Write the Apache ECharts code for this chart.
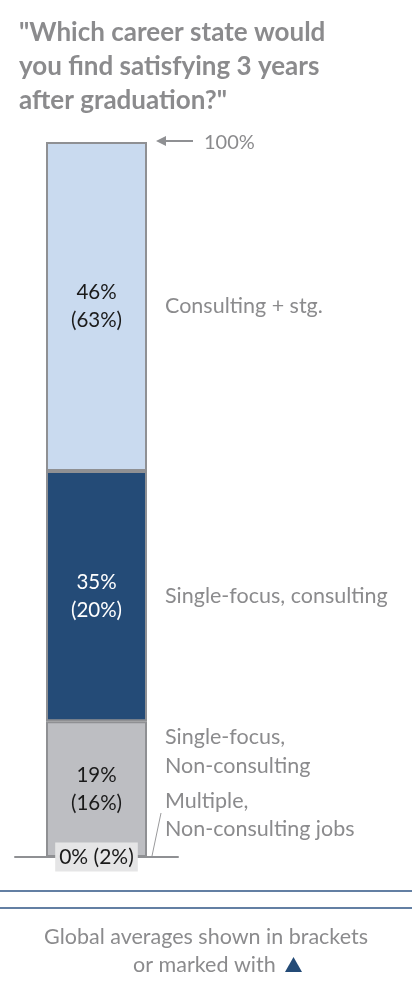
<!DOCTYPE html>
<html>
<head>
<meta charset="utf-8">
<style>
  html, body { margin: 0; padding: 0; background: #ffffff; }
  #chart { width: 412px; height: 983px; }
</style>
<script src="https://cdn.jsdelivr.net/npm/echarts@6/dist/echarts.min.js"></script>
</head>
<body>
<div id="chart"></div>
<script>
// Share of respondents per career state (bottom segment first), with global averages
const categories = ['Career state'];
const segmentNames = ['Multiple, Non-consulting jobs', 'Single-focus, Non-consulting', 'Single-focus, consulting', 'Consulting + stg.'];
const segmentValues = [0, 19, 35, 46];
const globalAverages = [2, 16, 20, 63];
const segmentColors = ['#bdbec2', '#bdbec2', '#244b77', '#c9daef'];
const insideTextColors = ['#1a1a1a', '#1a1a1a', '#ffffff', '#1a1a1a'];
const sideLabels = ['Multiple,\nNon-consulting jobs', 'Single-focus,\nNon-consulting', 'Single-focus, consulting', 'Consulting + stg.'];
const totalTick = 100;

const FONT = 'Lato, "Noto Sans", sans-serif';
const GREY_TEXT = '#8b8b8d';
const BORDER = '#8f9093';

const chart = echarts.init(document.getElementById('chart'), null, { renderer: 'canvas' });

const series = segmentValues.map((v, i) => {
  const s = {
    name: segmentNames[i],
    type: 'bar',
    stack: 'total',
    barWidth: 101,
    data: [v],
    itemStyle: { color: segmentColors[i], borderColor: BORDER, borderWidth: 2 },
    label: {
      show: true,
      position: 'inside',
      fontFamily: FONT,
      fontSize: 20.5,
      lineHeight: 28,
      color: insideTextColors[i],
      formatter: () => segmentValues[i] + '%\n(' + globalAverages[i] + '%)'
    },
    emphasis: { disabled: true },
    silent: true
  };
  if (i === 0) {
    s.label.formatter = () => segmentValues[i] + '% (' + globalAverages[i] + '%)';
    s.label.backgroundColor = '#e5e5e6';
    s.label.fontSize = 21;
    s.label.padding = [5, 4, 2, 4];
    s.label.lineHeight = 22;
    s.z = 5;
  }
  return s;
});

chart.setOption({
  animation: false,
  title: {
    text: '"Which career state would\nyou find satisfying 3 years\nafter graduation?"',
    left: 14,
    top: 11,
    textStyle: { fontFamily: FONT, fontSize: 26, fontWeight: 'bold', color: '#8b8b8d', lineHeight: 34 }
  },
  grid: { left: 15, right: 234, top: 142, bottom: 126 },
  xAxis: {
    type: 'category',
    data: categories,
    axisLine: { show: true, lineStyle: { color: BORDER, width: 2 } },
    axisTick: { show: false },
    axisLabel: { show: false }
  },
  yAxis: {
    type: 'value',
    min: 0,
    max: totalTick,
    show: false,
    splitLine: { show: false }
  },
  series: series
});

// Side labels, leader line, 100% marker and footer placed through the axis scales
function px(v) { return chart.convertToPixel({ gridIndex: 0 }, [categories[0], v]); }
const barRight = px(0)[0] + 50.5;
const labelX = barRight + 18;
const SIDE_SIZE = 21.5;

const graphics = [];
let cum = 0;
const sideOffsets = [0, -38, 0, 0];
segmentValues.forEach((v, i) => {
  const mid = px(cum + v / 2)[1];
  cum += v;
  if (i === 0) return;
  graphics.push({
    type: 'text',
    x: labelX,
    y: mid + sideOffsets[i],
    style: { text: sideLabels[i], fontFamily: FONT, fontSize: SIDE_SIZE, lineHeight: 29, fill: GREY_TEXT, verticalAlign: 'middle' },
    silent: true
  });
});

// Zero-share segment: label beside the baseline with a leader line
const basePt = px(0);
graphics.push({
  type: 'text',
  x: labelX,
  y: basePt[1] - 42,
  style: { text: sideLabels[0], fontFamily: FONT, fontSize: SIDE_SIZE, lineHeight: 28, fill: GREY_TEXT, verticalAlign: 'middle' },
  silent: true
});
graphics.push({
  type: 'line',
  shape: { x1: labelX - 4, y1: basePt[1] - 44, x2: barRight + 5, y2: basePt[1] - 1 },
  style: { stroke: '#9a9a9c', lineWidth: 1 },
  silent: true
});

// 100% marker arrow
const topPt = px(totalTick);
graphics.push({
  type: 'line',
  shape: { x1: barRight + 14, y1: topPt[1] - 1, x2: barRight + 46, y2: topPt[1] - 1 },
  style: { stroke: '#8f9093', lineWidth: 2 },
  silent: true
});
graphics.push({
  type: 'polygon',
  shape: { points: [[barRight + 9, topPt[1] - 1], [barRight + 19, topPt[1] - 6], [barRight + 19, topPt[1] + 4]] },
  style: { fill: '#8f9093' },
  silent: true
});
graphics.push({
  type: 'text',
  x: barRight + 57,
  y: topPt[1] + 1,
  style: { text: totalTick + '%', fontFamily: FONT, fontSize: 20, fill: GREY_TEXT, verticalAlign: 'middle' },
  silent: true
});

// Footer rules and note
[891, 908].forEach(y => graphics.push({
  type: 'line',
  shape: { x1: 0, y1: y, x2: 412, y2: y },
  style: { stroke: '#2f5585', lineWidth: 1.5 },
  silent: true
}));
graphics.push({
  type: 'text',
  x: 206,
  y: 937,
  style: { text: 'Global averages shown in brackets', fontFamily: FONT, fontSize: 21.5, fill: GREY_TEXT, align: 'center', verticalAlign: 'middle' },
  silent: true
});
graphics.push({
  type: 'text',
  x: 133,
  y: 965,
  style: { text: 'or marked with', fontFamily: FONT, fontSize: 21.5, fill: GREY_TEXT, align: 'left', verticalAlign: 'middle' },
  silent: true
});
graphics.push({
  type: 'polygon',
  shape: { points: [[285, 972], [302, 972], [293.5, 957]] },
  style: { fill: '#244b77' },
  silent: true
});

chart.setOption({ graphic: graphics });
</script>
</body>
</html>
